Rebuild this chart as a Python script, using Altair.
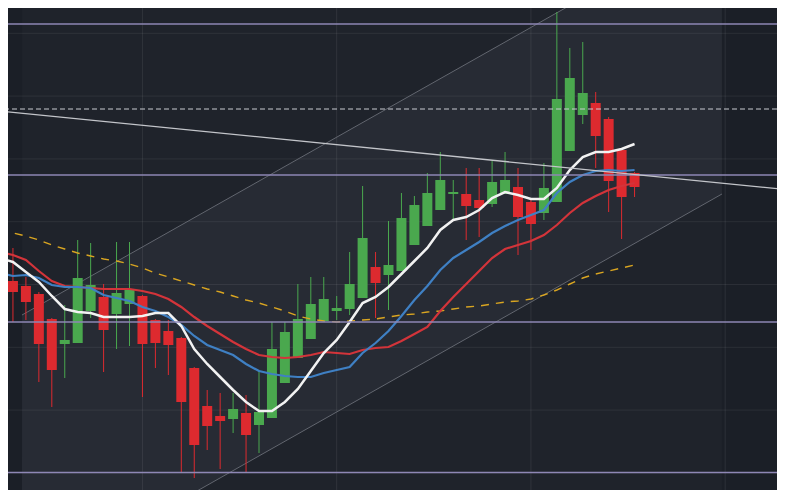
import altair as alt
import pandas as pd
import numpy as np

# ---- candles (index 0..49) ----
idx = list(range(50))
open_ = [236, 219, 214, 206, 181, 156, 157, 189, 203, 186, 196, 204, 180, 169, 162, 132, 94, 84, 81, 87,
         75, 82, 117, 142, 161, 179, 189, 191, 202, 233, 225, 229, 255, 274, 290, 306, 306, 300, 296, 306,
         313, 298, 287, 298, 349, 385, 397, 381, 350, 327]
high = [244, 252, 223, 208, 182, 195, 260, 257, 216, 258, 258, 205, 181, 180, 163, 133, 110, 107, 107, 105,
        130, 178, 178, 216, 223, 223, 204, 248, 314, 248, 279, 307, 304, 327, 348, 320, 332, 332, 339, 348,
        332, 300, 337, 488, 452, 458, 408, 383, 352, 328]
low = [200, 178, 180, 118, 93, 122, 157, 182, 128, 151, 154, 103, 132, 125, 27, 22, 50, 31, 67, 28,
       47, 82, 117, 142, 161, 179, 180, 185, 202, 182, 190, 229, 255, 274, 290, 280, 260, 263, 293, 306,
       245, 250, 280, 298, 349, 376, 332, 288, 261, 303]
close = [204, 208, 198, 156, 130, 160, 222, 215, 170, 207, 211, 156, 157, 155, 98, 55, 74, 79, 91, 65,
         88, 151, 168, 181, 196, 201, 192, 216, 262, 217, 235, 282, 295, 307, 320, 308, 294, 292, 318, 320,
         283, 276, 312, 401, 422, 407, 364, 319, 303, 313]

# ---- moving averages ----
ma_white = [242, 238, 228, 218, 204, 191, 188, 187, 183, 183, 183, 184, 187, 187, 174, 151, 136, 123, 110, 98,
            89, 89, 98, 111, 129, 147, 160, 178, 197, 203, 213, 226, 239, 252, 270, 280, 283, 290, 302, 308,
            305, 301, 301, 312, 330, 343, 348, 348, 351, 356]
ma_blue = [227, 224, 225, 222, 215, 213, 213, 212, 205, 202, 199, 193, 189, 183, 175, 164, 155, 150, 145, 136,
           129, 126, 124, 123, 123, 127, 130, 133, 147, 157, 169, 184, 200, 214, 230, 242, 250, 258, 267, 274,
           280, 285, 290, 307, 318, 325, 329, 330, 329, 330]
ma_red = [248, 245, 240, 229, 219, 214, 213, 212, 211, 211, 211, 209, 206, 201, 193, 183, 174, 166, 158, 151,
          145, 143, 142, 143, 145, 148, 147, 146, 150, 152, 153, 159, 166, 173, 189, 203, 216, 229, 242, 251,
          255, 259, 265, 275, 287, 297, 304, 310, 314, 317]
ma_orange = [269, 267, 264, 260, 255, 251, 247, 244, 241, 239, 236, 232, 227, 223, 219, 215, 211, 208, 204, 200,
             197, 193, 189, 184, 181, 179, 178, 179, 180, 181, 183, 185, 186, 188, 189, 191, 193, 194, 196, 198,
             199, 201, 205, 210, 216, 222, 226, 229, 232, 235]

# ---- drawings / grid ----
grid_x = [11, 26, 41, 56]
grid_y = [466.7, 403.9, 341.1, 278.3, 215.5, 152.7, 89.9, 27.1]
levels = [476, 325, 178, 27.5]
dashed_level = [391]
trend_i = [0, 60.62]
trend_p = [389, 310.5]
chan_i = [1.7, 55.75]
chan_upper = [185, 580.5]
chan_lower = [-90, 306]
panel_i = [1.7, 55.75]
panel_top = [492, 492]
panel_bottom = [10, 10]

W, H = 769, 482
xsc = alt.Scale(domain=[8 / 12.95, 777 / 12.95], nice=False, zero=False)
ysc = alt.Scale(domain=[10, 492], nice=False, zero=False)


def X(f):
    return alt.X(f, type="quantitative", scale=xsc, axis=None)


def Y(f):
    return alt.Y(f, type="quantitative", scale=ysc, axis=None)


candles = pd.DataFrame({"i": idx, "open": open_, "high": high, "low": low, "close": close})
candles["dir"] = np.where(candles["close"] >= candles["open"], "up", "down")
cscale = alt.Color("dir:N", scale=alt.Scale(domain=["up", "down"], range=["#4aa84e", "#dd2a2f"]), legend=None)

panel = alt.Chart(pd.DataFrame({"i": panel_i, "t": panel_top, "b": panel_bottom})).mark_area(
    color="#1f232b", clip=True).encode(x=X("i"), y=Y("t"), y2="b")

channel = alt.Chart(pd.DataFrame({"i": chan_i, "u": chan_upper, "l": chan_lower})).mark_area(
    color="#272b34", clip=True).encode(x=X("i"), y=Y("u"), y2="l")

vgrid = alt.Chart(pd.DataFrame({"g": grid_x})).mark_rule(
    color="#ffffff", opacity=0.08, strokeWidth=1).encode(x=X("g"))
hgrid = alt.Chart(pd.DataFrame({"g": grid_y})).mark_rule(
    color="#ffffff", opacity=0.07, strokeWidth=1).encode(y=Y("g"))

edge_df = pd.DataFrame({"i": chan_i * 2, "p": chan_upper + chan_lower, "e": ["u", "u", "l", "l"]})
edges = alt.Chart(edge_df).mark_line(color="#62666f", strokeWidth=1, clip=True).encode(
    x=X("i"), y=Y("p"), detail="e:N")

wicks = alt.Chart(candles).mark_rule(strokeWidth=1, clip=True).encode(
    x=X("i"), y=Y("low"), y2="high", color=cscale)
bodies = alt.Chart(candles).transform_calculate(
    l="datum.i - 0.386", r="datum.i + 0.386").mark_rect(clip=True).encode(
    x=X("l"), x2="r", y=Y("open"), y2="close", color=cscale)


def ma(vals, color, width, dash=None):
    df = pd.DataFrame({"i": idx, "v": vals})
    kw = dict(color=color, strokeWidth=width, clip=True)
    if dash:
        kw["strokeDash"] = dash
    return alt.Chart(df).mark_line(**kw).encode(x=X("i"), y=Y("v"))


orange = ma(ma_orange, "#d9a521", 1.4, [8, 7])
red = ma(ma_red, "#d3343a", 2.2)
blue = ma(ma_blue, "#3f80c4", 2.2)
white = ma(ma_white, "#f2f2f2", 2.5)

lvl = alt.Chart(pd.DataFrame({"p": levels})).mark_rule(color="#8e87b5", strokeWidth=1.5).encode(y=Y("p"))
dash = alt.Chart(pd.DataFrame({"p": dashed_level})).mark_rule(
    color="#c9cbd1", strokeWidth=1, strokeDash=[5, 3]).encode(y=Y("p"))
trend = alt.Chart(pd.DataFrame({"i": trend_i, "p": trend_p})).mark_line(
    color="#c3c5ca", strokeWidth=1.3, clip=True).encode(x=X("i"), y=Y("p"))

chart = alt.layer(panel, channel, vgrid, hgrid, edges, wicks, bodies, orange, red, blue, white,
                  lvl, dash, trend).properties(
    width=W, height=H, padding=0, autosize=alt.AutoSizeParams(type="none")
).configure(background="#1b1f27").configure_view(stroke=None, fill="#1b1f27")

chart.save("out.html", embed_options={"renderer": "svg", "actions": False})
